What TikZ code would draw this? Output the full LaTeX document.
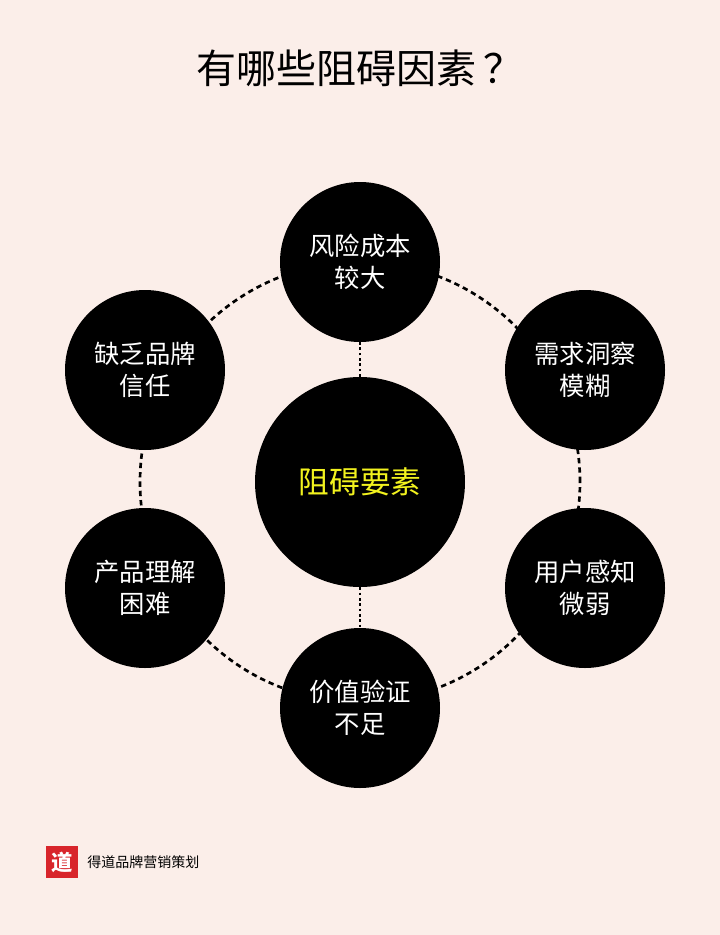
\documentclass[tikz,border=0pt]{standalone}
\usepackage{fontspec}
\newfontfamily\cjk{Noto Sans CJK SC}
\usetikzlibrary{positioning}
\definecolor{bgpink}{HTML}{FBEEE9}
\definecolor{logored}{HTML}{D8252B}
\definecolor{keyyellow}{HTML}{F2F21E}
\begin{document}
\begin{tikzpicture}[x=0.75pt,y=-0.75pt,
    every node/.style={font=\cjk, align=center},
    factor/.style={circle, fill=black, minimum size=160*0.75pt, inner sep=0pt, text=white, font=\cjk\fontsize{19}{24}\selectfont},
    link/.style={line width=2pt, dash pattern=on 4pt off 3pt},
    spoke/.style={line width=2pt, dotted}
]
\fill[bgpink] (0,0) rectangle (720,935);
\useasboundingbox (0,0) rectangle (720,935);
\node (title) at (360,68) {\fontsize{30}{34}\selectfont 有哪些阻碍因素\,？};
% ring behind the circles
\draw[link] (360,482) circle (220*0.75pt);
\node[factor, minimum size=210*0.75pt, text=keyyellow, font=\cjk\fontsize{23}{27}\selectfont] (core) at (360,482) {阻碍要素};
\node[factor] (risk) at (360,262) {风险成本\\较大};
\node[factor] (need) at (585,370) {需求洞察\\模糊};
\node[factor] (sense) at (585,588) {用户感知\\微弱};
\node[factor] (value) at (360,708) {价值验证\\不足};
\node[factor] (learn) at (145,588) {产品理解\\困难};
\node[factor] (trust) at (145,370) {缺乏品牌\\信任};
\draw[spoke] (core) -- (risk);
\draw[spoke] (core) -- (value);
% logo
\fill[logored] (46,846) rectangle (78,878);
\node[text=white, font=\cjk\bfseries\fontsize{16}{18}\selectfont] (logo) at (62,862) {道};
\node[right=4pt of logo, font=\cjk\fontsize{10.5}{12}\selectfont] (brand) {得道品牌营销策划};
\end{tikzpicture}
\end{document}
